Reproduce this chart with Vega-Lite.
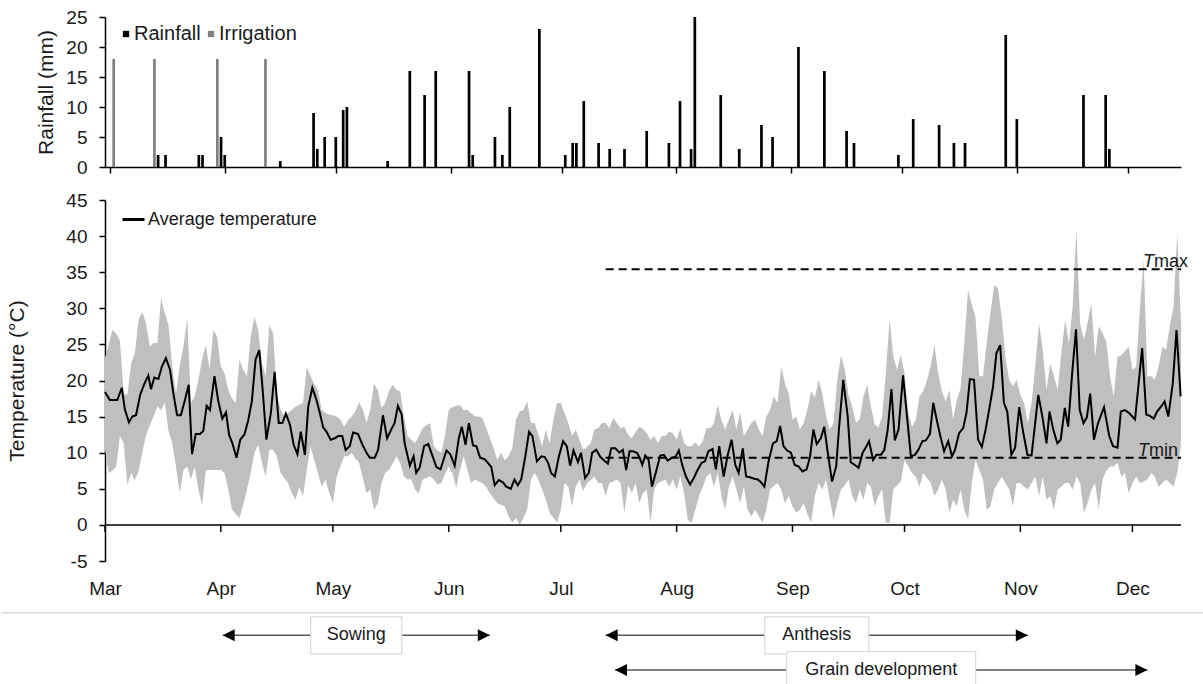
{
  "$schema": "https://vega.github.io/schema/vega-lite/v6.json",
  "padding": {"left": 0, "top": 8, "right": 0, "bottom": 0},
  "background": "#ffffff",
  "config": {
    "font": "Liberation Sans",
    "view": {"stroke": null},
    "axis": {"grid": false, "domain": true, "ticks": true, "domainColor": "#000000", "tickColor": "#000000", "domainWidth": 1.5, "tickWidth": 1.5, "labelFont": "Liberation Sans", "labelFontSize": 19, "labelColor": "#1a1a1a", "titleFont": "Liberation Sans", "titleFontSize": 21, "titleFontWeight": "normal", "titleColor": "#1a1a1a", "labelFlush": false, "zindex": 1},
    "legend": {"labelFont": "Liberation Sans", "labelFontSize": 18, "labelColor": "#1a1a1a", "padding": 0, "labelLimit": 400}
  },
  "datasets": {
    "rain": [
      {"day": 1, "mm": 18, "source": "Irrigation"},
      {"day": 12, "mm": 18, "source": "Irrigation"},
      {"day": 29, "mm": 18, "source": "Irrigation"},
      {"day": 42, "mm": 18, "source": "Irrigation"},
      {"day": 13, "mm": 2, "source": "Rainfall"},
      {"day": 15, "mm": 2, "source": "Rainfall"},
      {"day": 24, "mm": 2, "source": "Rainfall"},
      {"day": 25, "mm": 2, "source": "Rainfall"},
      {"day": 30, "mm": 5, "source": "Rainfall"},
      {"day": 31, "mm": 2, "source": "Rainfall"},
      {"day": 46, "mm": 1, "source": "Rainfall"},
      {"day": 55, "mm": 9, "source": "Rainfall"},
      {"day": 56, "mm": 3, "source": "Rainfall"},
      {"day": 58, "mm": 5, "source": "Rainfall"},
      {"day": 61, "mm": 5, "source": "Rainfall"},
      {"day": 63, "mm": 9.5, "source": "Rainfall"},
      {"day": 64, "mm": 10, "source": "Rainfall"},
      {"day": 75, "mm": 1, "source": "Rainfall"},
      {"day": 81, "mm": 16, "source": "Rainfall"},
      {"day": 85, "mm": 12, "source": "Rainfall"},
      {"day": 88, "mm": 16, "source": "Rainfall"},
      {"day": 97, "mm": 16, "source": "Rainfall"},
      {"day": 98, "mm": 2, "source": "Rainfall"},
      {"day": 104, "mm": 5, "source": "Rainfall"},
      {"day": 106, "mm": 2, "source": "Rainfall"},
      {"day": 108, "mm": 10, "source": "Rainfall"},
      {"day": 116, "mm": 23, "source": "Rainfall"},
      {"day": 123, "mm": 2, "source": "Rainfall"},
      {"day": 125, "mm": 4, "source": "Rainfall"},
      {"day": 126, "mm": 4, "source": "Rainfall"},
      {"day": 128, "mm": 11, "source": "Rainfall"},
      {"day": 132, "mm": 4, "source": "Rainfall"},
      {"day": 135, "mm": 3, "source": "Rainfall"},
      {"day": 139, "mm": 3, "source": "Rainfall"},
      {"day": 145, "mm": 6, "source": "Rainfall"},
      {"day": 151, "mm": 4, "source": "Rainfall"},
      {"day": 154, "mm": 11, "source": "Rainfall"},
      {"day": 157, "mm": 3, "source": "Rainfall"},
      {"day": 158, "mm": 25, "source": "Rainfall"},
      {"day": 165, "mm": 12, "source": "Rainfall"},
      {"day": 170, "mm": 3, "source": "Rainfall"},
      {"day": 176, "mm": 7, "source": "Rainfall"},
      {"day": 179, "mm": 5, "source": "Rainfall"},
      {"day": 186, "mm": 20, "source": "Rainfall"},
      {"day": 193, "mm": 16, "source": "Rainfall"},
      {"day": 199, "mm": 6, "source": "Rainfall"},
      {"day": 201, "mm": 4, "source": "Rainfall"},
      {"day": 213, "mm": 2, "source": "Rainfall"},
      {"day": 217, "mm": 8, "source": "Rainfall"},
      {"day": 224, "mm": 7, "source": "Rainfall"},
      {"day": 228, "mm": 4, "source": "Rainfall"},
      {"day": 231, "mm": 4, "source": "Rainfall"},
      {"day": 242, "mm": 22, "source": "Rainfall"},
      {"day": 245, "mm": 8, "source": "Rainfall"},
      {"day": 263, "mm": 12, "source": "Rainfall"},
      {"day": 269, "mm": 12, "source": "Rainfall"},
      {"day": 270, "mm": 3, "source": "Rainfall"}
    ],
    "months": [
      {"day": 0, "month": "Mar"}, {"day": 31, "month": "Apr"}, {"day": 61, "month": "May"}, {"day": 92, "month": "Jun"}, {"day": 122, "month": "Jul"},
      {"day": 153, "month": "Aug"}, {"day": 184, "month": "Sep"}, {"day": 214, "month": "Oct"}, {"day": 245, "month": "Nov"}, {"day": 275, "month": "Dec"}
    ],
    "temp": [
      {"day":0,"low":10.4,"high":23.1},{"day":1,"low":7.2,"high":25.0},{"day":2,"low":7.5,"high":27.0},{"day":3,"low":8.1,"high":26.5},{"day":4,"low":12.3,"high":25.5},
      {"day":5,"low":11.3,"high":18.2},{"day":6,"low":5.6,"high":18.0},{"day":7,"low":7.2,"high":22.4},{"day":8,"low":6.2,"high":23.8},{"day":9,"low":7.5,"high":28.5},
      {"day":10,"low":10.0,"high":29.5},{"day":11,"low":12.5,"high":27.9},{"day":12,"low":13.8,"high":24.7},{"day":13,"low":15.0,"high":25.2},{"day":14,"low":16.4,"high":25.2},
      {"day":15,"low":15.9,"high":31.4},{"day":16,"low":16.9,"high":29.3},{"day":17,"low":13.0,"high":27.7},{"day":18,"low":11.3,"high":21.9},{"day":19,"low":8.1,"high":18.2},
      {"day":20,"low":4.4,"high":22.0},{"day":21,"low":7.6,"high":24.7},{"day":22,"low":8.1,"high":28.6},{"day":23,"low":6.3,"high":16.9},{"day":24,"low":8.1,"high":17.8},
      {"day":25,"low":4.9,"high":20.1},{"day":26,"low":2.8,"high":23.0},{"day":27,"low":7.6,"high":24.9},{"day":28,"low":7.6,"high":21.5},{"day":29,"low":7.6,"high":27.0},
      {"day":30,"low":7.6,"high":26.1},{"day":31,"low":7.6,"high":21.9},{"day":32,"low":7.2,"high":21.0},{"day":33,"low":4.9,"high":18.7},{"day":34,"low":2.1,"high":17.5},
      {"day":35,"low":1.5,"high":16.9},{"day":36,"low":1.0,"high":22.9},{"day":37,"low":2.8,"high":21.5},{"day":38,"low":4.9,"high":20.6},{"day":39,"low":7.2,"high":26.1},
      {"day":40,"low":10.0,"high":28.8},{"day":41,"low":11.1,"high":27.0},{"day":42,"low":8.6,"high":22.4},{"day":43,"low":6.7,"high":20.6},{"day":44,"low":10.4,"high":27.7},
      {"day":45,"low":10.4,"high":26.5},{"day":46,"low":9.5,"high":18.2},{"day":47,"low":7.2,"high":16.0},{"day":48,"low":6.5,"high":15.0},{"day":49,"low":5.8,"high":15.5},
      {"day":50,"low":4.4,"high":15.9},{"day":51,"low":3.5,"high":16.4},{"day":52,"low":5.3,"high":16.6},{"day":53,"low":4.0,"high":16.9},{"day":54,"low":7.6,"high":21.9},
      {"day":55,"low":10.9,"high":20.6},{"day":56,"low":9.0,"high":19.5},{"day":57,"low":7.2,"high":18.7},{"day":58,"low":5.3,"high":15.9},{"day":59,"low":6.3,"high":15.5},
      {"day":60,"low":4.5,"high":15.3},{"day":61,"low":3.0,"high":15.2},{"day":62,"low":6.7,"high":15.0},{"day":63,"low":8.1,"high":14.6},{"day":64,"low":9.5,"high":13.6},
      {"day":65,"low":9.5,"high":14.5},{"day":66,"low":10.0,"high":15.0},{"day":67,"low":9.2,"high":15.7},{"day":68,"low":8.6,"high":17.0},{"day":69,"low":6.5,"high":16.0},
      {"day":70,"low":4.4,"high":14.1},{"day":71,"low":4.9,"high":15.9},{"day":72,"low":2.1,"high":19.6},{"day":73,"low":3.0,"high":18.7},{"day":74,"low":5.8,"high":16.2},
      {"day":75,"low":7.2,"high":16.9},{"day":76,"low":7.6,"high":18.5},{"day":77,"low":8.5,"high":19.4},{"day":78,"low":9.5,"high":18.7},{"day":79,"low":8.6,"high":18.5},
      {"day":80,"low":6.7,"high":15.0},{"day":81,"low":6.3,"high":12.3},{"day":82,"low":6.3,"high":11.8},{"day":83,"low":4.9,"high":11.3},{"day":84,"low":4.4,"high":12.3},
      {"day":85,"low":6.3,"high":13.4},{"day":86,"low":6.5,"high":13.8},{"day":87,"low":6.7,"high":14.1},{"day":88,"low":6.3,"high":10.9},{"day":89,"low":5.6,"high":10.3},
      {"day":90,"low":5.8,"high":10.0},{"day":91,"low":7.0,"high":12.3},{"day":92,"low":8.1,"high":15.9},{"day":93,"low":7.2,"high":16.3},{"day":94,"low":5.1,"high":16.5},
      {"day":95,"low":7.6,"high":16.6},{"day":96,"low":9.5,"high":15.9},{"day":97,"low":7.6,"high":15.9},{"day":98,"low":5.8,"high":15.5},{"day":99,"low":6.3,"high":15.0},
      {"day":100,"low":6.0,"high":15.0},{"day":101,"low":5.8,"high":14.8},{"day":102,"low":5.3,"high":13.5},{"day":103,"low":4.4,"high":12.0},{"day":104,"low":3.7,"high":10.6},
      {"day":105,"low":3.0,"high":9.0},{"day":106,"low":2.8,"high":10.0},{"day":107,"low":2.6,"high":9.0},{"day":108,"low":1.2,"high":9.5},{"day":109,"low":0.3,"high":10.6},
      {"day":110,"low":1.0,"high":14.6},{"day":111,"low":0.0,"high":15.7},{"day":112,"low":1.0,"high":15.9},{"day":113,"low":2.1,"high":17.1},{"day":114,"low":6.3,"high":14.1},
      {"day":115,"low":7.2,"high":14.1},{"day":116,"low":6.3,"high":12.5},{"day":117,"low":4.9,"high":10.9},{"day":118,"low":3.5,"high":13.2},{"day":119,"low":1.7,"high":11.3},
      {"day":120,"low":1.0,"high":14.6},{"day":121,"low":0.3,"high":16.9},{"day":122,"low":2.1,"high":16.9},{"day":123,"low":5.8,"high":15.5},{"day":124,"low":5.3,"high":14.1},
      {"day":125,"low":2.6,"high":12.3},{"day":126,"low":5.3,"high":13.2},{"day":127,"low":6.3,"high":11.8},{"day":128,"low":4.7,"high":10.4},{"day":129,"low":5.8,"high":10.8},
      {"day":130,"low":6.2,"high":11.3},{"day":131,"low":6.7,"high":13.2},{"day":132,"low":5.8,"high":13.4},{"day":133,"low":5.8,"high":14.1},{"day":134,"low":4.0,"high":14.1},
      {"day":135,"low":5.8,"high":13.4},{"day":136,"low":6.0,"high":14.8},{"day":137,"low":6.3,"high":14.1},{"day":138,"low":5.8,"high":13.4},{"day":139,"low":1.7,"high":13.6},
      {"day":140,"low":5.5,"high":12.5},{"day":141,"low":4.4,"high":12.0},{"day":142,"low":5.8,"high":12.8},{"day":143,"low":3.0,"high":13.6},{"day":144,"low":4.4,"high":13.3},
      {"day":145,"low":4.9,"high":12.7},{"day":146,"low":0.3,"high":11.8},{"day":147,"low":4.9,"high":12.3},{"day":148,"low":5.8,"high":11.3},{"day":149,"low":6.0,"high":12.3},
      {"day":150,"low":6.3,"high":12.3},{"day":151,"low":5.3,"high":12.9},{"day":152,"low":6.3,"high":12.7},{"day":153,"low":4.9,"high":11.8},{"day":154,"low":6.7,"high":13.3},
      {"day":155,"low":4.4,"high":11.3},{"day":156,"low":0.7,"high":10.9},{"day":157,"low":0.3,"high":10.9},{"day":158,"low":2.1,"high":11.4},{"day":159,"low":4.0,"high":10.9},
      {"day":160,"low":5.3,"high":11.6},{"day":161,"low":6.7,"high":13.4},{"day":162,"low":7.2,"high":13.4},{"day":163,"low":5.3,"high":14.1},{"day":164,"low":7.2,"high":16.6},
      {"day":165,"low":4.0,"high":14.5},{"day":166,"low":2.1,"high":13.2},{"day":167,"low":5.3,"high":14.6},{"day":168,"low":6.7,"high":15.9},{"day":169,"low":4.9,"high":13.2},
      {"day":170,"low":3.0,"high":15.6},{"day":171,"low":5.3,"high":12.3},{"day":172,"low":2.1,"high":13.2},{"day":173,"low":1.2,"high":14.1},{"day":174,"low":2.1,"high":14.6},
      {"day":175,"low":1.2,"high":13.2},{"day":176,"low":0.3,"high":12.3},{"day":177,"low":2.1,"high":15.0},{"day":178,"low":4.9,"high":15.9},{"day":179,"low":5.4,"high":17.8},
      {"day":180,"low":5.8,"high":16.9},{"day":181,"low":4.9,"high":21.9},{"day":182,"low":3.0,"high":19.6},{"day":183,"low":4.0,"high":18.2},{"day":184,"low":2.6,"high":14.6},
      {"day":185,"low":1.7,"high":15.0},{"day":186,"low":2.1,"high":13.2},{"day":187,"low":3.0,"high":14.1},{"day":188,"low":1.5,"high":15.9},{"day":189,"low":0.3,"high":18.5},
      {"day":190,"low":4.0,"high":17.6},{"day":191,"low":5.8,"high":20.1},{"day":192,"low":4.9,"high":18.2},{"day":193,"low":6.3,"high":15.0},{"day":194,"low":3.5,"high":13.2},
      {"day":195,"low":0.7,"high":14.1},{"day":196,"low":3.0,"high":20.1},{"day":197,"low":4.9,"high":23.5},{"day":198,"low":5.5,"high":21.5},{"day":199,"low":6.3,"high":18.0},
      {"day":200,"low":4.0,"high":16.4},{"day":201,"low":3.0,"high":14.1},{"day":202,"low":4.9,"high":14.6},{"day":203,"low":3.5,"high":17.8},{"day":204,"low":5.8,"high":19.4},
      {"day":205,"low":5.3,"high":16.4},{"day":206,"low":2.6,"high":13.9},{"day":207,"low":4.0,"high":13.5},{"day":208,"low":4.9,"high":15.0},{"day":209,"low":0.3,"high":21.0},
      {"day":210,"low":0.3,"high":28.4},{"day":211,"low":4.9,"high":23.3},{"day":212,"low":5.5,"high":21.5},{"day":213,"low":6.0,"high":23.5},{"day":214,"low":9.0,"high":21.0},
      {"day":215,"low":8.1,"high":15.5},{"day":216,"low":7.2,"high":13.6},{"day":217,"low":6.7,"high":14.5},{"day":218,"low":5.3,"high":17.8},{"day":219,"low":7.2,"high":18.5},
      {"day":220,"low":6.5,"high":20.0},{"day":221,"low":5.8,"high":22.0},{"day":222,"low":4.0,"high":24.9},{"day":223,"low":4.9,"high":21.0},{"day":224,"low":6.3,"high":18.5},
      {"day":225,"low":4.9,"high":17.1},{"day":226,"low":1.7,"high":18.7},{"day":227,"low":3.5,"high":14.6},{"day":228,"low":2.6,"high":17.3},{"day":229,"low":4.9,"high":18.9},
      {"day":230,"low":2.1,"high":25.2},{"day":231,"low":0.7,"high":32.5},{"day":232,"low":5.8,"high":30.5},{"day":233,"low":9.0,"high":28.8},{"day":234,"low":7.6,"high":20.6},
      {"day":235,"low":6.3,"high":20.6},{"day":236,"low":2.1,"high":25.2},{"day":237,"low":2.6,"high":29.3},{"day":238,"low":4.9,"high":33.2},{"day":239,"low":5.8,"high":32.8},
      {"day":240,"low":6.7,"high":28.8},{"day":241,"low":5.8,"high":23.3},{"day":242,"low":4.9,"high":20.1},{"day":243,"low":2.6,"high":19.2},{"day":244,"low":5.8,"high":20.1},
      {"day":245,"low":5.8,"high":18.0},{"day":246,"low":5.3,"high":16.9},{"day":247,"low":4.9,"high":14.1},{"day":248,"low":5.8,"high":16.9},{"day":249,"low":6.7,"high":22.0},
      {"day":250,"low":4.0,"high":27.9},{"day":251,"low":6.7,"high":24.2},{"day":252,"low":3.5,"high":18.7},{"day":253,"low":4.0,"high":22.4},{"day":254,"low":2.1,"high":20.6},
      {"day":255,"low":4.9,"high":18.7},{"day":256,"low":5.3,"high":24.0},{"day":257,"low":5.8,"high":28.4},{"day":258,"low":5.8,"high":25.2},{"day":259,"low":4.9,"high":30.2},
      {"day":260,"low":6.7,"high":40.8},{"day":261,"low":5.8,"high":27.9},{"day":262,"low":1.7,"high":25.6},{"day":263,"low":3.0,"high":28.0},{"day":264,"low":4.9,"high":30.7},
      {"day":265,"low":5.8,"high":23.3},{"day":266,"low":2.1,"high":27.5},{"day":267,"low":6.3,"high":26.5},{"day":268,"low":7.5,"high":25.4},{"day":269,"low":8.1,"high":20.6},
      {"day":270,"low":8.1,"high":17.8},{"day":271,"low":8.6,"high":23.3},{"day":272,"low":6.7,"high":23.5},{"day":273,"low":7.2,"high":24.0},{"day":274,"low":4.4,"high":24.7},
      {"day":275,"low":5.8,"high":21.5},{"day":276,"low":6.7,"high":21.9},{"day":277,"low":5.8,"high":30.0},{"day":278,"low":6.0,"high":36.7},{"day":279,"low":6.3,"high":20.6},
      {"day":280,"low":7.2,"high":20.6},{"day":281,"low":6.7,"high":20.1},{"day":282,"low":5.3,"high":21.9},{"day":283,"low":5.8,"high":24.7},{"day":284,"low":6.3,"high":24.2},
      {"day":285,"low":5.8,"high":27.5},{"day":286,"low":5.3,"high":30.2},{"day":287,"low":7.2,"high":40.4},{"day":288,"low":11.3,"high":27.9}
    ],
    "avg": [
      {"day":0,"avg":18.4},{"day":1.3,"avg":17.3},{"day":3.3,"avg":17.3},{"day":4.5,"avg":19.0},{"day":5.3,"avg":16.0},{"day":6.4,"avg":14.2},{"day":7.3,"avg":15.0},{"day":8.3,"avg":15.2},{"day":9.4,"avg":18.0},{"day":10.5,"avg":19.5},
      {"day":11.6,"avg":20.7},{"day":12.3,"avg":18.8},{"day":13.2,"avg":20.4},{"day":14.3,"avg":20.2},{"day":15.2,"avg":21.9},{"day":16.3,"avg":23.1},{"day":17.4,"avg":21.5},{"day":18.3,"avg":18.2},{"day":19.3,"avg":15.2},{"day":20.3,"avg":15.2},
      {"day":21.4,"avg":17.3},{"day":22.4,"avg":19.4},{"day":23.3,"avg":9.8},{"day":24.3,"avg":12.6},{"day":25.4,"avg":12.6},{"day":26.3,"avg":13.0},{"day":27.2,"avg":16.5},{"day":28.1,"avg":15.9},{"day":29.3,"avg":20.6},{"day":30.3,"avg":17.2},
      {"day":31.4,"avg":14.7},{"day":32.4,"avg":15.6},{"day":33.2,"avg":12.5},{"day":34.1,"avg":11.3},{"day":35.2,"avg":9.3},{"day":36.2,"avg":11.8},{"day":37.3,"avg":12.5},{"day":38.3,"avg":14.4},{"day":39.3,"avg":17.1},{"day":40.3,"avg":22.9},
      {"day":41.3,"avg":24.2},{"day":42.2,"avg":18.7},{"day":43.2,"avg":11.8},{"day":44.4,"avg":15.5},{"day":45.4,"avg":21.2},{"day":46.5,"avg":14.1},{"day":47.5,"avg":14.1},{"day":48.4,"avg":15.4},{"day":49.5,"avg":13.9},{"day":50.5,"avg":11.1},
      {"day":51.5,"avg":9.8},{"day":52.4,"avg":12.9},{"day":53.5,"avg":9.7},{"day":54.4,"avg":16.4},{"day":55.5,"avg":19.0},{"day":56.6,"avg":17.3},{"day":57.5,"avg":15.5},{"day":58.4,"avg":13.5},{"day":59.3,"avg":12.9},{"day":60.4,"avg":11.8},
      {"day":61.5,"avg":12.0},{"day":62.4,"avg":12.3},{"day":63.5,"avg":12.3},{"day":64.4,"avg":10.4},{"day":65.5,"avg":10.9},{"day":66.4,"avg":12.8},{"day":67.7,"avg":12.6},{"day":69.0,"avg":11.0},{"day":70.0,"avg":10.0},{"day":70.9,"avg":9.3},
      {"day":72.2,"avg":9.3},{"day":73.1,"avg":10.4},{"day":74.4,"avg":15.2},{"day":75.5,"avg":12.0},{"day":76.7,"avg":13.3},{"day":77.5,"avg":14.1},{"day":78.4,"avg":16.5},{"day":79.4,"avg":15.3},{"day":80.2,"avg":11.3},{"day":81.6,"avg":8.2},
      {"day":82.6,"avg":9.5},{"day":83.3,"avg":7.2},{"day":84.2,"avg":7.9},{"day":85.4,"avg":10.9},{"day":86.5,"avg":11.2},{"day":87.7,"avg":9.5},{"day":88.7,"avg":8.0},{"day":89.8,"avg":7.7},{"day":91.4,"avg":10.3},{"day":92.4,"avg":9.8},
      {"day":93.6,"avg":8.2},{"day":94.7,"avg":12.0},{"day":95.5,"avg":13.6},{"day":96.5,"avg":11.1},{"day":97.4,"avg":14.1},{"day":98.5,"avg":11.0},{"day":99.4,"avg":10.9},{"day":100.4,"avg":9.3},{"day":101.6,"avg":9.1},{"day":102.5,"avg":8.6},
      {"day":103.4,"avg":8.0},{"day":104.3,"avg":5.5},{"day":105.4,"avg":6.2},{"day":106.5,"avg":5.9},{"day":107.4,"avg":5.3},{"day":108.6,"avg":5.0},{"day":109.6,"avg":6.3},{"day":110.5,"avg":5.5},{"day":111.4,"avg":6.3},{"day":112.5,"avg":9.5},
      {"day":113.5,"avg":12.9},{"day":114.4,"avg":12.3},{"day":115.6,"avg":8.8},{"day":116.8,"avg":9.5},{"day":117.7,"avg":9.4},{"day":118.6,"avg":8.6},{"day":119.4,"avg":7.2},{"day":120.4,"avg":6.7},{"day":121.5,"avg":9.5},{"day":122.6,"avg":11.6},
      {"day":123.6,"avg":10.9},{"day":124.5,"avg":8.2},{"day":125.4,"avg":10.3},{"day":126.6,"avg":8.7},{"day":127.4,"avg":10.0},{"day":128.5,"avg":6.5},{"day":129.5,"avg":7.2},{"day":130.4,"avg":10.0},{"day":131.5,"avg":10.4},{"day":132.6,"avg":9.4},
      {"day":133.7,"avg":8.9},{"day":134.6,"avg":8.5},{"day":135.5,"avg":10.6},{"day":136.6,"avg":10.6},{"day":137.7,"avg":10.0},{"day":138.6,"avg":10.4},{"day":139.5,"avg":7.6},{"day":140.4,"avg":10.2},{"day":141.3,"avg":10.2},{"day":142.4,"avg":10.0},
      {"day":143.1,"avg":9.3},{"day":143.8,"avg":8.3},{"day":144.6,"avg":9.6},{"day":145.5,"avg":9.0},{"day":146.4,"avg":5.3},{"day":147.5,"avg":7.4},{"day":148.6,"avg":9.6},{"day":149.6,"avg":9.7},{"day":150.6,"avg":8.9},{"day":151.8,"avg":9.3},
      {"day":152.8,"avg":9.5},{"day":153.6,"avg":10.3},{"day":154.6,"avg":8.1},{"day":155.5,"avg":6.7},{"day":156.6,"avg":5.6},{"day":157.6,"avg":6.5},{"day":158.6,"avg":7.6},{"day":159.7,"avg":8.6},{"day":160.6,"avg":8.8},{"day":161.5,"avg":10.2},
      {"day":162.6,"avg":10.5},{"day":163.5,"avg":7.7},{"day":164.4,"avg":10.9},{"day":165.6,"avg":6.7},{"day":166.6,"avg":9.5},{"day":167.7,"avg":11.8},{"day":168.7,"avg":8.3},{"day":169.6,"avg":7.2},{"day":170.7,"avg":10.6},{"day":171.6,"avg":6.7},
      {"day":172.6,"avg":6.6},{"day":173.8,"avg":6.4},{"day":174.7,"avg":6.3},{"day":175.6,"avg":5.9},{"day":176.5,"avg":5.3},{"day":177.6,"avg":8.8},{"day":178.8,"avg":11.3},{"day":179.8,"avg":11.6},{"day":180.7,"avg":13.7},{"day":181.6,"avg":10.9},
      {"day":182.6,"avg":10.3},{"day":183.6,"avg":10.0},{"day":184.6,"avg":8.3},{"day":185.6,"avg":8.1},{"day":186.7,"avg":7.4},{"day":187.8,"avg":7.7},{"day":188.7,"avg":9.4},{"day":189.6,"avg":13.2},{"day":190.5,"avg":11.2},{"day":191.6,"avg":12.0},
      {"day":192.5,"avg":13.6},{"day":193.6,"avg":9.5},{"day":194.6,"avg":6.0},{"day":195.7,"avg":8.1},{"day":196.5,"avg":13.6},{"day":197.6,"avg":20.1},{"day":198.8,"avg":15.0},{"day":199.6,"avg":8.7},{"day":200.7,"avg":8.3},{"day":201.7,"avg":7.9},
      {"day":202.8,"avg":10.0},{"day":203.8,"avg":10.9},{"day":204.5,"avg":11.6},{"day":205.6,"avg":9.0},{"day":206.5,"avg":9.7},{"day":207.7,"avg":9.7},{"day":208.6,"avg":10.4},{"day":209.5,"avg":13.2},{"day":210.5,"avg":18.8},{"day":211.4,"avg":11.7},
      {"day":212.4,"avg":13.2},{"day":213.6,"avg":20.7},{"day":214.5,"avg":15.9},{"day":215.7,"avg":9.5},{"day":216.8,"avg":9.7},{"day":217.7,"avg":10.4},{"day":218.8,"avg":11.6},{"day":219.7,"avg":11.7},{"day":220.8,"avg":12.6},{"day":221.7,"avg":16.9},
      {"day":222.6,"avg":14.6},{"day":223.5,"avg":12.5},{"day":224.6,"avg":10.2},{"day":225.7,"avg":11.6},{"day":226.7,"avg":9.5},{"day":227.5,"avg":10.4},{"day":228.6,"avg":12.7},{"day":229.7,"avg":13.4},{"day":230.6,"avg":15.6},{"day":231.5,"avg":20.2},
      {"day":232.6,"avg":20.1},{"day":233.7,"avg":11.8},{"day":234.7,"avg":10.8},{"day":235.7,"avg":13.2},{"day":236.8,"avg":16.4},{"day":237.7,"avg":19.2},{"day":238.6,"avg":23.8},{"day":239.6,"avg":24.9},{"day":240.6,"avg":16.9},{"day":241.5,"avg":15.7},
      {"day":242.6,"avg":9.7},{"day":243.6,"avg":10.7},{"day":244.7,"avg":16.3},{"day":245.7,"avg":13.0},{"day":246.9,"avg":9.7},{"day":248.0,"avg":9.6},{"day":249.8,"avg":18.0},{"day":250.9,"avg":15.0},{"day":252.0,"avg":11.3},{"day":252.8,"avg":15.7},
      {"day":253.8,"avg":13.2},{"day":254.9,"avg":11.3},{"day":255.8,"avg":11.8},{"day":256.9,"avg":16.2},{"day":257.8,"avg":13.6},{"day":258.9,"avg":21.2},{"day":259.9,"avg":27.1},{"day":260.9,"avg":15.9},{"day":261.9,"avg":14.1},{"day":262.8,"avg":14.9},
      {"day":263.7,"avg":18.2},{"day":264.7,"avg":11.8},{"day":265.8,"avg":14.1},{"day":267.4,"avg":16.3},{"day":268.8,"avg":12.3},{"day":269.8,"avg":10.9},{"day":271.0,"avg":10.7},{"day":271.9,"avg":15.7},{"day":273.0,"avg":15.9},{"day":274.1,"avg":15.5},
      {"day":275.7,"avg":14.6},{"day":277.6,"avg":24.5},{"day":278.7,"avg":15.3},{"day":279.7,"avg":15.1},{"day":280.7,"avg":14.7},{"day":281.6,"avg":15.7},{"day":282.7,"avg":16.4},{"day":283.6,"avg":17.1},{"day":284.6,"avg":15.0},{"day":285.8,"avg":19.6},
      {"day":286.8,"avg":27.0},{"day":287.9,"avg":17.8}
    ],
    "thresholds": [
      {"name": "Tmax", "t": 35.4, "start": 134, "end": 288},
      {"name": "Tmin", "t": 9.3, "start": 134, "end": 288}
    ],
    "phases": [
      {"phase": "Sowing", "start": 31.5, "end": 103, "lane": 1},
      {"phase": "Anthesis", "start": 134, "end": 247, "lane": 1},
      {"phase": "Grain development", "start": 136.5, "end": 279, "lane": 2}
    ]
  },
  "spacing": 14,
  "resolve": {"scale": {"color": "independent", "stroke": "independent"}, "legend": {"color": "independent", "stroke": "independent"}},
  "vconcat": [
    {
      "width": 1076,
      "height": 150,
      "data": {"name": "rain"},
      "mark": {"type": "bar", "width": 2.7},
      "encoding": {
        "x": {"field": "day", "type": "quantitative", "scale": {"domain": [0, 288], "nice": false, "zero": false},
              "axis": {"values": [0, 31, 61, 92, 122, 153, 184, 214, 245, 275], "labels": false, "title": null, "tickSize": 6}},
        "y": {"field": "mm", "type": "quantitative", "scale": {"domain": [0, 25], "nice": false},
              "axis": {"values": [0, 5, 10, 15, 20, 25], "title": "Rainfall (mm)", "tickSize": 6, "labelPadding": 12, "titlePadding": 9, "domain": true}},
        "color": {"field": "source", "type": "nominal", "scale": {"domain": ["Rainfall", "Irrigation"], "range": ["#000000", "#808080"]},
                  "legend": {"orient": "none", "legendX": 11, "legendY": 7, "direction": "horizontal", "title": null, "symbolType": "square", "symbolSize": 40, "symbolStrokeWidth": 0, "labelOffset": -2, "columnPadding": 0, "labelFontSize": 20}}
      }
    },
    {
      "width": 1076,
      "height": 361,
      "encoding": {
        "x": {"type": "quantitative", "scale": {"domain": [0, 288], "nice": false, "zero": false},
              "axis": {"values": [0, 31, 61, 92, 122, 153, 184, 214, 245, 275], "title": null, "domain": false, "ticks": false, "offset": -36.1, "labelPadding": 55,
                       "labelExpr": "datum.value == 0 ? 'Mar' : datum.value == 31 ? 'Apr' : datum.value == 61 ? 'May' : datum.value == 92 ? 'Jun' : datum.value == 122 ? 'Jul' : datum.value == 153 ? 'Aug' : datum.value == 184 ? 'Sep' : datum.value == 214 ? 'Oct' : datum.value == 245 ? 'Nov' : 'Dec'"}},
        "y": {"type": "quantitative", "scale": {"domain": [-5, 45], "nice": false, "zero": false},
              "axis": {"values": [-5, 0, 5, 10, 15, 20, 25, 30, 35, 40, 45], "title": "Temperature (°C)", "tickSize": 6, "labelPadding": 12, "titlePadding": 38, "labelExpr": "'' + datum.value"}}
      },
      "layer": [
        {
          "data": {"name": "temp"},
          "mark": {"type": "area", "color": "#bfbfbf"},
          "encoding": {
            "x": {"field": "day"},
            "y": {"field": "high"},
            "y2": {"field": "low"}
          }
        },
        {
          "data": {"name": "thresholds"},
          "mark": {"type": "rule", "strokeDash": [8, 5], "strokeWidth": 2, "color": "#000000"},
          "encoding": {
            "x": {"field": "start"},
            "x2": {"field": "end"},
            "y": {"field": "t"}
          }
        },
        {
          "data": {"name": "avg"},
          "mark": {"type": "line", "strokeWidth": 2},
          "encoding": {
            "x": {"field": "day"},
            "y": {"field": "avg"},
            "stroke": {"datum": "Average temperature", "type": "nominal", "scale": {"range": ["#000000"]},
                       "legend": {"orient": "none", "legendX": 16, "legendY": 7, "title": null, "symbolType": "stroke", "symbolStrokeWidth": 3, "symbolSize": 484, "labelOffset": 2}}
          }
        },
        {
          "data": {"values": [{"line": "zero"}]},
          "mark": {"type": "rule", "color": "#000000", "strokeWidth": 1.5},
          "encoding": {
            "x": {"datum": 0},
            "x2": {"datum": 288},
            "y": {"datum": 0}
          }
        },
        {
          "data": {"name": "months"},
          "mark": {"type": "rule", "color": "#000000", "strokeWidth": 1.5},
          "encoding": {
            "x": {"field": "day"},
            "y": {"datum": 0},
            "y2": {"datum": -0.97}
          }
        },
        {
          "data": {"name": "thresholds"},
          "transform": [{"filter": "datum.name === 'Tmax'"}],
          "mark": {"type": "text", "text": "max", "align": "right", "baseline": "alphabetic", "dx": 7, "dy": -2, "fontSize": 18, "color": "#1a1a1a"},
          "encoding": {"x": {"field": "end"}, "y": {"field": "t"}}
        },
        {
          "data": {"name": "thresholds"},
          "transform": [{"filter": "datum.name === 'Tmax'"}],
          "mark": {"type": "text", "text": "T", "fontStyle": "italic", "align": "right", "baseline": "alphabetic", "dx": -27, "dy": -2, "fontSize": 18, "color": "#1a1a1a"},
          "encoding": {"x": {"field": "end"}, "y": {"field": "t"}}
        },
        {
          "data": {"name": "thresholds"},
          "transform": [{"filter": "datum.name === 'Tmin'"}],
          "mark": {"type": "text", "text": "min", "align": "right", "baseline": "alphabetic", "dx": -3, "dy": -2, "fontSize": 18, "color": "#1a1a1a"},
          "encoding": {"x": {"field": "end"}, "y": {"field": "t"}}
        },
        {
          "data": {"name": "thresholds"},
          "transform": [{"filter": "datum.name === 'Tmin'"}],
          "mark": {"type": "text", "text": "T", "fontStyle": "italic", "align": "right", "baseline": "alphabetic", "dx": -32, "dy": -2, "fontSize": 18, "color": "#1a1a1a"},
          "encoding": {"x": {"field": "end"}, "y": {"field": "t"}}
        },
        {
          "data": {"values": [{"line": "separator"}]},
          "mark": {"type": "rule", "color": "#d9d9d9", "strokeWidth": 1.5},
          "encoding": {
            "x": {"datum": -27.8},
            "x2": {"datum": 294.1},
            "y": {"datum": -12.16}
          }
        },
        {
          "data": {"name": "phases"},
          "transform": [{"calculate": "datum.lane === 1 ? -15.3 : -20.1", "as": "ypos"}],
          "mark": {"type": "rule", "color": "#595959", "strokeWidth": 1.5},
          "encoding": {
            "x": {"field": "start"},
            "x2": {"field": "end"},
            "y": {"field": "ypos"}
          }
        },
        {
          "data": {"name": "phases"},
          "transform": [{"calculate": "datum.lane === 1 ? -15.3 : -20.1", "as": "ypos"}],
          "mark": {"type": "point", "shape": "M-1,0L1,-1L1,1Z", "filled": true, "size": 144, "color": "#000000", "opacity": 1, "xOffset": 6},
          "encoding": {
            "x": {"field": "start"},
            "y": {"field": "ypos"}
          }
        },
        {
          "data": {"name": "phases"},
          "transform": [{"calculate": "datum.lane === 1 ? -15.3 : -20.1", "as": "ypos"}],
          "mark": {"type": "point", "shape": "M1,0L-1,-1L-1,1Z", "filled": true, "size": 144, "color": "#000000", "opacity": 1, "xOffset": -6},
          "encoding": {
            "x": {"field": "end"},
            "y": {"field": "ypos"}
          }
        },
        {
          "data": {"name": "phases"},
          "transform": [{"filter": "datum.phase === 'Sowing'"}, {"calculate": "(datum.start + datum.end) / 2", "as": "mid"}, {"calculate": "datum.lane === 1 ? -15.3 : -20.1", "as": "ypos"}],
          "mark": {"type": "rect", "width": 91, "height": 37, "fill": "#ffffff", "stroke": "#d9d9d9", "strokeWidth": 1.2},
          "encoding": {
            "x": {"field": "mid"},
            "y": {"field": "ypos"}
          }
        },
        {
          "data": {"name": "phases"},
          "transform": [{"filter": "datum.phase === 'Anthesis'"}, {"calculate": "(datum.start + datum.end) / 2", "as": "mid"}, {"calculate": "datum.lane === 1 ? -15.3 : -20.1", "as": "ypos"}],
          "mark": {"type": "rect", "width": 104, "height": 37, "fill": "#ffffff", "stroke": "#d9d9d9", "strokeWidth": 1.2},
          "encoding": {
            "x": {"field": "mid"},
            "y": {"field": "ypos"}
          }
        },
        {
          "data": {"name": "phases"},
          "transform": [{"filter": "datum.phase === 'Grain development'"}, {"calculate": "(datum.start + datum.end) / 2", "as": "mid"}, {"calculate": "datum.lane === 1 ? -15.3 : -20.1", "as": "ypos"}],
          "mark": {"type": "rect", "width": 189, "height": 37, "fill": "#ffffff", "stroke": "#d9d9d9", "strokeWidth": 1.2},
          "encoding": {
            "x": {"field": "mid"},
            "y": {"field": "ypos"}
          }
        },
        {
          "data": {"name": "phases"},
          "transform": [{"calculate": "(datum.start + datum.end) / 2", "as": "mid"}, {"calculate": "datum.lane === 1 ? -15.3 : -20.1", "as": "ypos"}],
          "mark": {"type": "text", "fontSize": 18, "color": "#1a1a1a", "align": "center", "baseline": "middle"},
          "encoding": {
            "x": {"field": "mid"},
            "y": {"field": "ypos"},
            "text": {"field": "phase"}
          }
        }
      ]
    }
  ]
}
